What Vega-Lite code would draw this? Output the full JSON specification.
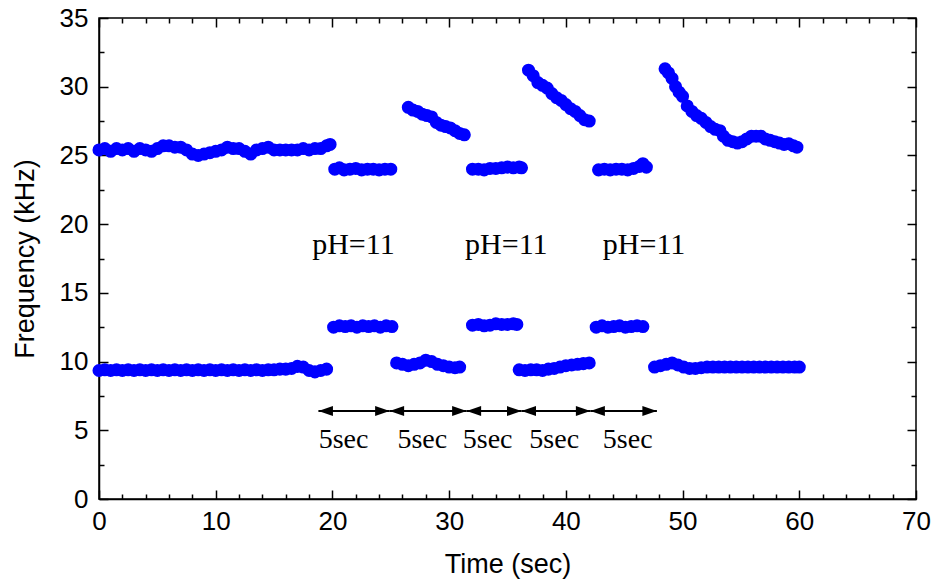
{
  "$schema": "https://vega.github.io/schema/vega-lite/v6.json",
  "width": 817,
  "height": 481,
  "autosize": {"type": "none"},
  "padding": {"left": 99, "top": 18, "right": 19, "bottom": 85},
  "background": "white",
  "config": {
    "view": {"stroke": "black", "strokeWidth": 1.5},
    "axis": {
      "grid": false,
      "domainColor": "black",
      "domainWidth": 1.5,
      "tickColor": "black",
      "tickWidth": 1.5,
      "labelFont": "Liberation Sans",
      "titleFont": "Liberation Sans",
      "labelFontSize": 26,
      "titleFontSize": 27,
      "titleFontWeight": "normal",
      "labelColor": "black",
      "titleColor": "black",
      "labelOverlap": false,
      "labelFlush": false
    }
  },
  "datasets": {
    "pts": [
      {"t":0,"f":25.4},{"t":0.5,"f":25.5},{"t":1,"f":25.3},{"t":1.5,"f":25.5},{"t":2,"f":25.4},{"t":2.5,"f":25.5},{"t":3,"f":25.3},{"t":3.5,"f":25.5},{"t":4,"f":25.4},{"t":4.5,"f":25.3},
      {"t":5,"f":25.5},{"t":5.5,"f":25.7},{"t":6,"f":25.7},{"t":6.5,"f":25.6},{"t":7,"f":25.6},{"t":7.5,"f":25.4},{"t":8,"f":25.1},{"t":8.5,"f":25.0},{"t":9,"f":25.1},{"t":9.5,"f":25.2},
      {"t":10,"f":25.3},{"t":10.5,"f":25.4},{"t":11,"f":25.6},{"t":11.5,"f":25.5},{"t":12,"f":25.5},{"t":12.5,"f":25.3},{"t":13,"f":25.1},{"t":13.5,"f":25.4},{"t":14,"f":25.5},{"t":14.5,"f":25.6},
      {"t":15,"f":25.4},{"t":15.5,"f":25.4},{"t":16,"f":25.4},{"t":16.5,"f":25.4},{"t":17,"f":25.4},{"t":17.5,"f":25.5},{"t":18,"f":25.4},{"t":18.5,"f":25.5},{"t":19,"f":25.5},{"t":19.5,"f":25.7},{"t":19.8,"f":25.8},
      {"t":0,"f":9.35},{"t":0.5,"f":9.4},{"t":1,"f":9.35},{"t":1.5,"f":9.4},{"t":2,"f":9.35},{"t":2.5,"f":9.4},{"t":3,"f":9.35},{"t":3.5,"f":9.4},{"t":4,"f":9.35},{"t":4.5,"f":9.4},
      {"t":5,"f":9.35},{"t":5.5,"f":9.4},{"t":6,"f":9.35},{"t":6.5,"f":9.4},{"t":7,"f":9.35},{"t":7.5,"f":9.4},{"t":8,"f":9.35},{"t":8.5,"f":9.4},{"t":9,"f":9.35},{"t":9.5,"f":9.4},
      {"t":10,"f":9.35},{"t":10.5,"f":9.4},{"t":11,"f":9.35},{"t":11.5,"f":9.4},{"t":12,"f":9.35},{"t":12.5,"f":9.4},{"t":13,"f":9.35},{"t":13.5,"f":9.4},{"t":14,"f":9.35},{"t":14.5,"f":9.4},
      {"t":15,"f":9.4},{"t":15.5,"f":9.45},{"t":16,"f":9.45},{"t":16.5,"f":9.5},{"t":17,"f":9.65},{"t":17.5,"f":9.6},{"t":18,"f":9.35},{"t":18.5,"f":9.25},{"t":19,"f":9.35},{"t":19.5,"f":9.45},
      {"t":20.2,"f":24.0},{"t":20.6,"f":24.1},{"t":21,"f":23.95},{"t":21.5,"f":24.0},{"t":22,"f":24.05},{"t":22.5,"f":23.95},{"t":23,"f":24.0},{"t":23.5,"f":24.0},{"t":24,"f":23.95},{"t":24.5,"f":24.0},{"t":25,"f":24.0},
      {"t":20.1,"f":12.5},{"t":20.6,"f":12.6},{"t":21.1,"f":12.55},{"t":21.6,"f":12.6},{"t":22.1,"f":12.5},{"t":22.6,"f":12.6},{"t":23.1,"f":12.55},{"t":23.6,"f":12.6},{"t":24.1,"f":12.5},{"t":24.6,"f":12.6},{"t":25.1,"f":12.55},
      {"t":26.5,"f":28.5},{"t":26.9,"f":28.3},{"t":27.3,"f":28.2},{"t":27.7,"f":28.0},{"t":28.1,"f":27.9},{"t":28.5,"f":27.8},{"t":28.9,"f":27.4},{"t":29.3,"f":27.2},{"t":29.7,"f":27.1},{"t":30.1,"f":27.0},{"t":30.5,"f":26.8},{"t":30.9,"f":26.6},{"t":31.3,"f":26.5},
      {"t":25.5,"f":9.9},{"t":26,"f":9.8},{"t":26.5,"f":9.7},{"t":27,"f":9.8},{"t":27.5,"f":9.9},{"t":28,"f":10.1},{"t":28.5,"f":10.0},{"t":29,"f":9.8},{"t":29.5,"f":9.7},{"t":30,"f":9.6},{"t":30.5,"f":9.55},{"t":30.9,"f":9.6},
      {"t":32,"f":24.0},{"t":32.5,"f":24.0},{"t":33,"f":23.95},{"t":33.5,"f":24.05},{"t":34,"f":24.05},{"t":34.5,"f":24.1},{"t":35,"f":24.15},{"t":35.5,"f":24.1},{"t":36,"f":24.15},{"t":36.2,"f":24.1},
      {"t":32,"f":12.65},{"t":32.5,"f":12.7},{"t":33,"f":12.6},{"t":33.5,"f":12.65},{"t":34,"f":12.75},{"t":34.5,"f":12.7},{"t":35,"f":12.7},{"t":35.5,"f":12.75},{"t":35.8,"f":12.7},
      {"t":36.8,"f":31.2},{"t":37.2,"f":30.8},{"t":37.6,"f":30.3},{"t":38,"f":30.1},{"t":38.4,"f":29.9},{"t":38.8,"f":29.5},{"t":39.2,"f":29.2},{"t":39.6,"f":29.0},{"t":40,"f":28.7},{"t":40.4,"f":28.4},{"t":40.8,"f":28.2},{"t":41.2,"f":27.9},{"t":41.6,"f":27.6},{"t":42,"f":27.5},
      {"t":36,"f":9.4},{"t":36.5,"f":9.35},{"t":37,"f":9.4},{"t":37.5,"f":9.4},{"t":38,"f":9.35},{"t":38.5,"f":9.45},{"t":39,"f":9.5},{"t":39.5,"f":9.6},{"t":40,"f":9.7},{"t":40.5,"f":9.75},{"t":41,"f":9.8},{"t":41.5,"f":9.85},{"t":42,"f":9.9},
      {"t":42.8,"f":23.95},{"t":43.3,"f":24.0},{"t":43.8,"f":23.95},{"t":44.3,"f":24.0},{"t":44.8,"f":24.0},{"t":45.3,"f":23.95},{"t":45.8,"f":24.05},{"t":46.3,"f":24.2},{"t":46.6,"f":24.4},{"t":46.9,"f":24.15},
      {"t":42.6,"f":12.5},{"t":43.1,"f":12.6},{"t":43.6,"f":12.5},{"t":44.1,"f":12.55},{"t":44.6,"f":12.6},{"t":45.1,"f":12.5},{"t":45.6,"f":12.55},{"t":46.1,"f":12.6},{"t":46.6,"f":12.55},
      {"t":48.5,"f":31.3},{"t":48.8,"f":31.0},{"t":49.1,"f":30.6},{"t":49.4,"f":30.0},{"t":49.7,"f":29.6},{"t":50,"f":29.3},{"t":50.4,"f":28.6},{"t":50.8,"f":28.2},{"t":51.2,"f":27.9},{"t":51.6,"f":27.7},
      {"t":52,"f":27.4},{"t":52.4,"f":27.1},{"t":52.8,"f":26.9},{"t":53.2,"f":26.8},{"t":53.5,"f":26.4},{"t":53.9,"f":26.1},{"t":54.3,"f":26.0},{"t":54.7,"f":25.9},{"t":55.1,"f":26.0},{"t":55.5,"f":26.2},
      {"t":55.9,"f":26.4},{"t":56.3,"f":26.4},{"t":56.7,"f":26.4},{"t":57.1,"f":26.2},{"t":57.5,"f":26.1},{"t":57.9,"f":26.0},{"t":58.3,"f":25.9},{"t":58.7,"f":25.8},{"t":59.1,"f":25.85},{"t":59.5,"f":25.7},{"t":59.8,"f":25.6},
      {"t":47.6,"f":9.6},{"t":48.1,"f":9.7},{"t":48.6,"f":9.8},{"t":49.1,"f":9.9},{"t":49.6,"f":9.75},{"t":50.1,"f":9.6},{"t":50.6,"f":9.5},{"t":51.1,"f":9.5},{"t":51.6,"f":9.55},{"t":52.1,"f":9.6},
      {"t":52.6,"f":9.6},{"t":53.1,"f":9.6},{"t":53.6,"f":9.6},{"t":54.1,"f":9.6},{"t":54.6,"f":9.6},{"t":55.1,"f":9.6},{"t":55.6,"f":9.6},{"t":56.1,"f":9.6},{"t":56.6,"f":9.6},{"t":57.1,"f":9.6},
      {"t":57.6,"f":9.6},{"t":58.1,"f":9.6},{"t":58.6,"f":9.6},{"t":59.1,"f":9.6},{"t":59.6,"f":9.6},{"t":60,"f":9.6}
    ],
    "arrows": [
      {"a":18.8,"b":24.9,"y":6.4},
      {"a":24.9,"b":31.5,"y":6.4},
      {"a":31.5,"b":36.2,"y":6.4},
      {"a":36.2,"b":42.1,"y":6.4},
      {"a":42.1,"b":47.8,"y":6.4}
    ],
    "ph": [
      {"t":21.8,"y":17.8,"label":"pH=11"},
      {"t":34.9,"y":17.8,"label":"pH=11"},
      {"t":46.7,"y":17.8,"label":"pH=11"}
    ],
    "secs": [
      {"t":20.95,"y":3.7,"label":"5sec"},
      {"t":27.7,"y":3.7,"label":"5sec"},
      {"t":33.3,"y":3.7,"label":"5sec"},
      {"t":39.0,"y":3.7,"label":"5sec"},
      {"t":45.3,"y":3.7,"label":"5sec"}
    ]
  },
  "layer": [
    {
      "data": {"name": "pts"},
      "mark": {"type": "circle", "size": 170, "color": "#0000ff", "opacity": 1},
      "encoding": {
        "x": {
          "field": "t", "type": "quantitative",
          "scale": {"domain": [0, 70], "nice": false, "zero": false},
          "axis": {
            "orient": "bottom",
            "title": "Time (sec)",
            "values": [0,2,4,6,8,10,12,14,16,18,20,22,24,26,28,30,32,34,36,38,40,42,44,46,48,50,52,54,56,58,60,62,64,66,68,70],
            "tickSize": {"condition": {"test": "datum.value % 10 === 0", "value": -9}, "value": -5},
            "labelExpr": "datum.value % 10 === 0 ? datum.label : ''",
            "labelPadding": 18,
            "titlePadding": 13
          }
        },
        "y": {
          "field": "f", "type": "quantitative",
          "scale": {"domain": [0, 35], "nice": false, "zero": false},
          "axis": {
            "orient": "left",
            "title": "Frequency (kHz)",
            "values": [0,2.5,5,7.5,10,12.5,15,17.5,20,22.5,25,27.5,30,32.5,35],
            "tickSize": {"condition": {"test": "datum.value % 5 === 0", "value": -9}, "value": -5},
            "labelExpr": "datum.value % 5 === 0 ? datum.label : ''",
            "labelPadding": 20,
            "titlePadding": 20
          }
        }
      }
    },
    {
      "data": {"name": "arrows"},
      "mark": {"type": "rule", "color": "black", "strokeWidth": 2},
      "encoding": {
        "x": {
          "field": "a", "type": "quantitative",
          "axis": {
            "orient": "top",
            "title": null,
            "labels": false,
            "domain": false,
            "values": [0,2,4,6,8,10,12,14,16,18,20,22,24,26,28,30,32,34,36,38,40,42,44,46,48,50,52,54,56,58,60,62,64,66,68,70],
            "tickSize": {"condition": {"test": "datum.value % 10 === 0", "value": -9}, "value": -5}
          }
        },
        "x2": {"field": "b"},
        "y": {
          "field": "y", "type": "quantitative",
          "axis": {
            "orient": "right",
            "title": null,
            "labels": false,
            "domain": false,
            "values": [0,2.5,5,7.5,10,12.5,15,17.5,20,22.5,25,27.5,30,32.5,35],
            "tickSize": {"condition": {"test": "datum.value % 5 === 0", "value": -9}, "value": -5}
          }
        }
      }
    },
    {
      "data": {"name": "arrows"},
      "mark": {"type": "point", "shape": "M0,0L1,-0.34L1,0.34Z", "size": 841, "filled": true, "color": "black", "opacity": 1},
      "encoding": {
        "x": {"field": "a", "type": "quantitative", "axis": null},
        "y": {"field": "y", "type": "quantitative", "axis": null}
      }
    },
    {
      "data": {"name": "arrows"},
      "mark": {"type": "point", "shape": "M0,0L-1,-0.34L-1,0.34Z", "size": 841, "filled": true, "color": "black", "opacity": 1},
      "encoding": {
        "x": {"field": "b", "type": "quantitative", "axis": null},
        "y": {"field": "y", "type": "quantitative", "axis": null}
      }
    },
    {
      "data": {"name": "ph"},
      "mark": {"type": "text", "font": "Liberation Serif", "fontSize": 30, "align": "center", "baseline": "alphabetic", "color": "black"},
      "encoding": {
        "x": {"field": "t", "type": "quantitative", "axis": null},
        "y": {"field": "y", "type": "quantitative", "axis": null},
        "text": {"field": "label"}
      }
    },
    {
      "data": {"name": "secs"},
      "mark": {"type": "text", "font": "Liberation Serif", "fontSize": 28, "align": "center", "baseline": "alphabetic", "color": "black"},
      "encoding": {
        "x": {"field": "t", "type": "quantitative", "axis": null},
        "y": {"field": "y", "type": "quantitative", "axis": null},
        "text": {"field": "label"}
      }
    }
  ],
  "resolve": {"axis": {"x": "independent", "y": "independent"}}
}
